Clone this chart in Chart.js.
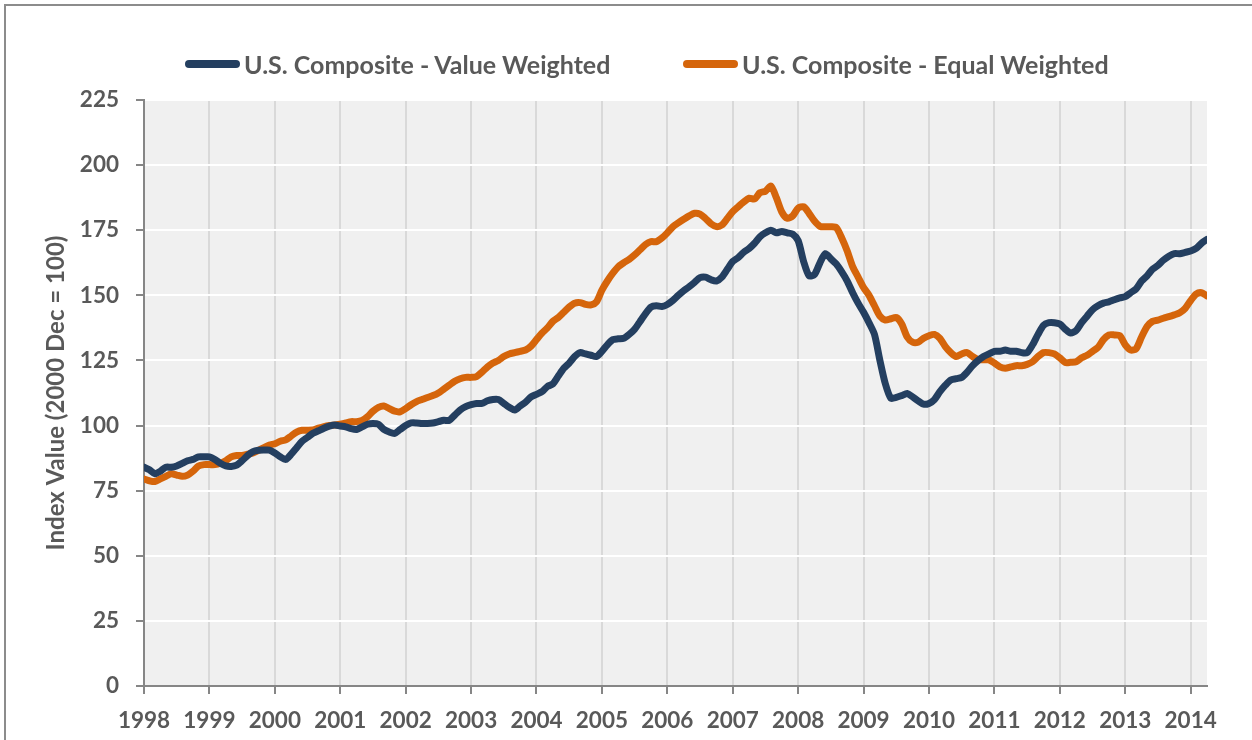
<!DOCTYPE html>
<html>
<head>
<meta charset="utf-8">
<script src="https://cdn.jsdelivr.net/npm/chart.js@4.4.1/dist/chart.umd.min.js"></script>
<style>
  body { margin: 0; background: #fff; }
  #wrap { position: relative; width: 1252px; height: 740px; overflow: hidden; }
  #frame { position: absolute; left: 4px; top: 4px; width: 1300px; height: 780px; border: 2px solid #8c8c8c; box-sizing: border-box; pointer-events: none; }
  .leg { position: absolute; top: 49px; display: flex; align-items: center; font: bold 25px Lato, sans-serif; color: #595959; white-space: nowrap; }
  .leg i { display: inline-block; width: 55px; height: 8px; border-radius: 4px; margin-right: 4px; }
</style>
</head>
<body>
<div id="wrap">
  <canvas id="chart" width="1252" height="740"></canvas>
  <div id="frame"></div>
  <div class="leg" style="left:185px"><i style="background:#243F60"></i>U.S. Composite - Value Weighted</div>
  <div class="leg" style="left:683px"><i style="background:#D5650B"></i>U.S. Composite - Equal Weighted</div>
</div>
<script>
// monthly index values, Jan 1998 .. Apr 2014
const startYear = 1998;
const yearTicks = [1998, 1999, 2000, 2001, 2002, 2003, 2004, 2005, 2006, 2007, 2008, 2009, 2010, 2011, 2012, 2013, 2014];
const yTicks = [0, 25, 50, 75, 100, 125, 150, 175, 200, 225];

const valueWeighted = [
  84, 83, 81.5, 82.5, 84, 84, 84.5, 85.5, 86.5, 87, 88, 88,
  88, 87, 85.5, 84.5, 84.3, 84.8, 86.5, 88.5, 90, 90.5, 90.6, 90.6,
  89.5, 88, 87, 89, 91.5, 94, 95.5, 97, 98, 99, 99.8, 100.2,
  99.8, 99.5, 98.8, 98.5, 99.5, 100.5, 100.8, 100.5, 98.5, 97.5, 97, 98.5,
  100, 101, 101, 100.8, 100.8, 101, 101.5, 102, 102, 104, 106, 107.3,
  108, 108.5, 108.5, 109.5, 110, 110, 108.5, 107, 106, 107.5, 109, 111,
  112, 113, 115, 116, 119, 122, 124, 126.5, 128, 127.5, 127, 126.5,
  128.5, 131, 133, 133.3, 133.5, 135, 137, 140, 143, 145.5, 146, 145.7,
  146.5, 148, 150, 151.8, 153.3, 155, 156.8, 157, 156, 155.5, 157, 160,
  163, 164.5, 166.5, 168, 170, 172.5, 174, 175, 174, 174.5, 174, 173.5,
  171, 163, 157.5, 158, 162.5, 166, 164, 162, 159, 155.5, 151, 147,
  143.5, 139.5, 135, 125, 116, 110.5, 110.8, 111.5, 112.3, 111, 109.5, 108.2,
  108.5, 110, 113, 115.5, 117.5, 118, 118.5, 120.5, 123, 125, 126.5, 127.5,
  128.5, 128.5, 129, 128.5, 128.5, 128, 128, 131, 135, 138.5, 139.5, 139.5,
  139, 137, 135.5, 136.5, 139.5, 142, 144.5, 146, 147, 147.5, 148.3, 149,
  149.5, 151, 152.5, 155.5, 157.5, 160, 161.5, 163.5, 165, 166, 166, 166.5,
  167, 168, 170, 171.5
];

const equalWeighted = [
  79.5, 78.8, 78.5, 79.5, 80.5, 81.5, 81, 80.5, 81, 82.5, 84.5, 85,
  85, 85, 85.5, 86.5, 88, 88.5, 88.5, 89, 89.5, 90.5, 91.5, 92.5,
  93, 94, 94.5, 96, 97.5, 98.2, 98.2, 98.3, 99, 99.6, 100, 100.2,
  100.5, 101, 101.5, 101.5, 102, 103.4, 105.5, 107, 107.5, 106.5, 105.5, 105.3,
  106.5, 108, 109.2, 110, 110.8, 111.5, 112.5, 114, 115.5, 117, 118, 118.5,
  118.5, 118.8, 120.5, 122.5, 124, 125, 126.5, 127.5, 128, 128.5, 129, 130.5,
  133, 135.5, 137.5, 140, 141.5, 143.5, 145.5, 147, 147.2, 146.5, 146.3, 147.5,
  152, 155.5, 158.5, 161, 162.5, 163.8, 165.5, 167.5, 169.5, 170.6, 170.6, 172,
  174, 176.3, 177.8, 179.2, 180.5, 181.5, 181.2, 179.5, 177.5, 176.4, 177, 179.5,
  182.1, 184, 185.8, 187.3, 187, 189.4, 190, 192, 187.5, 182, 179.6, 180.5,
  183.5, 184, 181.5, 178.5, 176.5, 176.3, 176.3, 176, 172, 167, 161, 157,
  153, 150, 146, 142, 140.5, 141, 141.5, 139, 134, 132, 132, 133.5,
  134.5, 135, 133.5, 130.3, 128, 126.5, 127.5, 128, 126.5, 125.3, 125.3, 125.2,
  124, 122.5, 122, 122.5, 123, 123, 123.5, 124.5, 126.5, 128, 128, 127.5,
  126, 124.2, 124.3, 124.5, 126, 127, 128.5, 130, 133, 134.8, 134.8, 134.5,
  131, 129, 129.5, 134, 138, 140, 140.5, 141.2, 141.8, 142.5, 143.3, 145,
  148, 150.5, 151, 149.8
];

const toPoints = arr => arr.map((v, i) => ({ x: startYear + i / 12, y: v }));
const fontFamily = 'Lato, "Open Sans", sans-serif';
const textColor = '#595959';

const plotBackground = {
  id: 'plotBackground',
  beforeDraw(chart) {
    const { ctx, chartArea } = chart;
    ctx.save();
    ctx.fillStyle = '#F0F0F0';
    ctx.fillRect(chartArea.left, chartArea.top, chartArea.right - chartArea.left, chartArea.bottom - chartArea.top);
    ctx.restore();
  }
};

new Chart(document.getElementById('chart'), {
  type: 'line',
  data: {
    datasets: [{
      label: 'U.S. Composite - Value Weighted',
      data: toPoints(valueWeighted),
      borderColor: '#243F60',
      backgroundColor: '#243F60',
      borderWidth: 7,
      tension: 0.25,
      pointRadius: 0,
      borderJoinStyle: 'round',
      borderCapStyle: 'round'
    }, {
      label: 'U.S. Composite - Equal Weighted',
      data: toPoints(equalWeighted),
      borderColor: '#D5650B',
      backgroundColor: '#D5650B',
      borderWidth: 7,
      tension: 0.25,
      pointRadius: 0,
      borderJoinStyle: 'round',
      borderCapStyle: 'round'
    }]
  },
  options: {
    responsive: false,
    devicePixelRatio: 1,
    animation: false,
    layout: { padding: { left: 0, right: 45, top: 100, bottom: 0 } },
    plugins: { legend: { display: false }, tooltip: { enabled: false } },
    scales: {
      x: {
        type: 'linear',
        min: startYear,
        max: startYear + (valueWeighted.length - 1) / 12,
        afterBuildTicks: s => { s.ticks = yearTicks.map(v => ({ value: v })); },
        afterFit: s => { s.height = 54; },
        ticks: {
          autoSkip: false,
          maxRotation: 0,
          padding: 13,
          color: textColor,
          font: { family: fontFamily, size: 22.5, weight: 'bold' },
          callback: v => String(v)
        },
        grid: { color: '#D9D9D9', lineWidth: 2, tickColor: '#868686', tickLength: 8 },
        border: { color: '#868686', width: 2 }
      },
      y: {
        min: 0,
        max: 225,
        afterBuildTicks: s => { s.ticks = yTicks.map(v => ({ value: v })); },
        afterFit: s => { s.width = 144; },
        ticks: {
          padding: 17,
          color: textColor,
          font: { family: fontFamily, size: 22.5, weight: 'bold' }
        },
        grid: { color: '#FFFFFF', lineWidth: 2, tickColor: '#868686', tickLength: 8 },
        border: { color: '#868686', width: 2 },
        title: {
          display: true,
          text: 'Index Value (2000 Dec = 100)',
          color: textColor,
          font: { family: fontFamily, size: 24, weight: 'bold' },
          padding: { top: 42, bottom: 0 }
        }
      }
    }
  },
  plugins: [plotBackground]
});
</script>
</body>
</html>
